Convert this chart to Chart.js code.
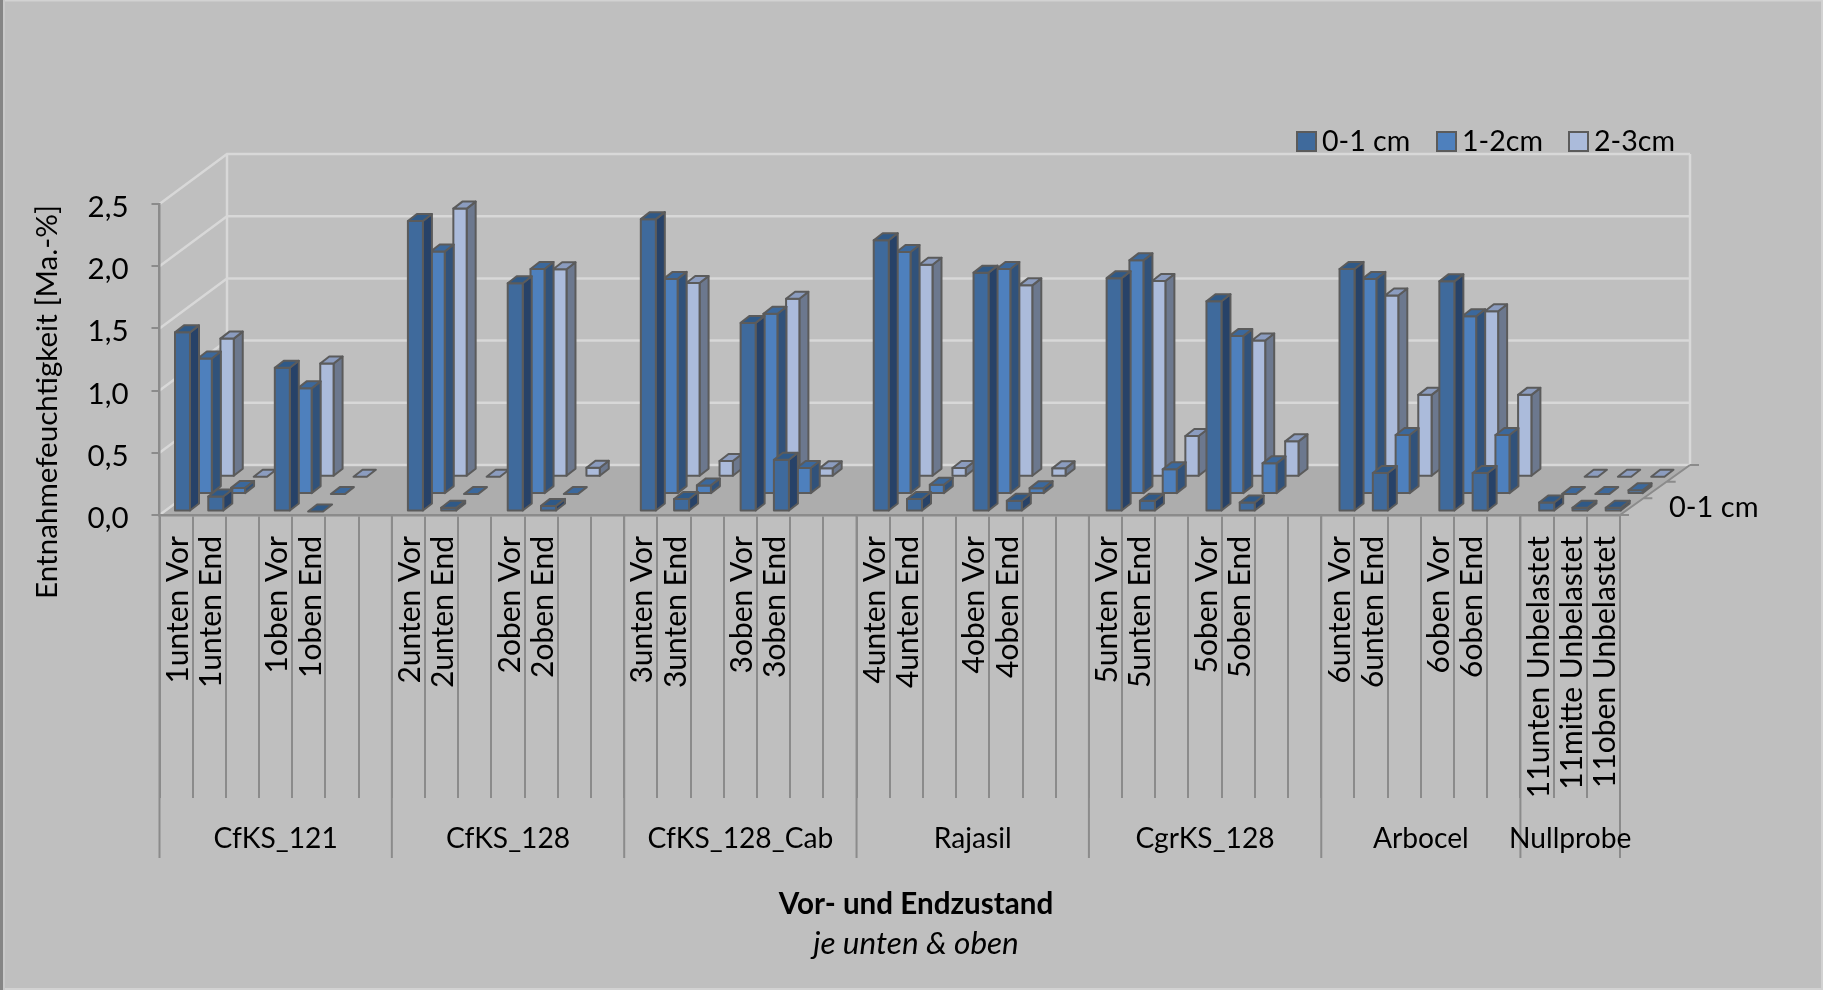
<!DOCTYPE html>
<html>
<head>
<meta charset="utf-8">
<title>Entnahmefeuchtigkeit</title>
<style>html,body{margin:0;padding:0;background:#bfbfbf}canvas{display:block}</style>
<script src="https://cdn.jsdelivr.net/npm/chart.js@4/dist/chart.umd.min.js"></script>
</head>
<body>
<canvas id="c" width="1823" height="990"></canvas>
<script>
// Sample labels per slot; empty strings are the spacer slots between sample pairs.
const categories = [
  '1unten Vor','1unten End','','1oben Vor','1oben End','','',
  '2unten Vor','2unten End','','2oben Vor','2oben End','','',
  '3unten Vor','3unten End','','3oben Vor','3oben End','','',
  '4unten Vor','4unten End','','4oben Vor','4oben End','','',
  '5unten Vor','5unten End','','5oben Vor','5oben End','','',
  '6unten Vor','6unten End','','6oben Vor','6oben End','',
  '11unten Unbelastet','11mitte Unbelastet','11oben Unbelastet'
];
const groupNames = ['CfKS_121','CfKS_128','CfKS_128_Cab','Rajasil','CgrKS_128','Arbocel','Nullprobe'];
const groupSizes = [7,7,7,7,7,6,3];
const seriesNames = ['0-1 cm','1-2cm','2-3cm'];
const depth0to1 = [
  1.44,0.12,null,1.155,0.00,null,null,
  2.335,0.03,null,1.835,0.045,null,null,
  2.35,0.10,null,1.516,0.416,null,null,
  2.18,0.10,null,1.92,0.086,null,null,
  1.876,0.086,null,1.69,0.072,null,null,
  1.95,0.31,null,1.85,0.31,null,
  0.072,0.03,0.03
];
const depth1to2 = [
  1.09,0.05,null,0.85,0.00,null,null,
  1.95,0.00,null,1.81,0.00,null,null,
  1.73,0.07,null,1.45,0.21,null,null,
  1.946,0.075,null,1.81,0.048,null,null,
  1.879,0.20,null,1.27,0.247,null,null,
  1.73,0.475,null,1.43,0.475,null,
  0.00,0.00,0.03
];
const depth2to3 = [
  1.11,0.00,null,0.91,0.00,null,null,
  2.155,0.00,null,1.667,0.072,null,null,
  1.557,0.126,null,1.43,0.067,null,null,
  1.704,0.07,null,1.538,0.067,null,null,
  1.573,0.327,null,1.095,0.284,null,null,
  1.457,0.658,null,1.33,0.658,null,
  0.00,0.00,0.00
];
const yTicks = {min:0, max:2.5, step:0.5};

const FONT = 'Lato, "Open Sans", sans-serif';
const TEXT = '#000000';
const AXIS = '#8b8b8b';
const WALL = '#d8d8d8';
const OUTLINE = '#5b5b5b';
// Oblique projection of the box: the back of the floor shifts up and to the right,
// a little further on the right-hand side.
const BOX_DX_LEFT = 67.5, BOX_DX_RIGHT = 70, BOX_DY = -50;

// Bar drawn as an oblique prism; planeIndex moves it back along the depth axis.
class Prism extends Chart.BarElement {
  static id = 'prism';
  static defaults = Object.assign({}, Chart.BarElement.defaults, {sideColor:'#000', topColor:'#000', planeIndex:0});
  draw(ctx) {
    const o = this.options;
    const i = o.planeIndex;
    const sx = 6.4 + 0.0024 * (this.x - 176) + i * 22.3;
    const sy = -3.5 - i * 17.4;
    const l = this.x - this.width / 2 + sx, r = l + this.width;
    const t = this.y + sy, b = this.base + sy;
    const dx = 9, dy = -7;
    ctx.save();
    ctx.lineWidth = 2;
    ctx.lineJoin = 'round';
    ctx.strokeStyle = OUTLINE;
    const face = (pts, fill) => {
      ctx.beginPath();
      pts.forEach((p, k) => k ? ctx.lineTo(p[0], p[1]) : ctx.moveTo(p[0], p[1]));
      ctx.closePath();
      ctx.fillStyle = fill;
      ctx.fill();
      ctx.stroke();
    };
    if (b - t > 0.5) {
      face([[r,t],[r+dx,t+dy],[r+dx,b+dy],[r,b]], o.sideColor);
      face([[l,t],[r,t],[r,b],[l,b]], o.backgroundColor);
    }
    face([[l,t],[l+dx,t+dy],[r+dx,t+dy],[r,t]], o.topColor);
    ctx.restore();
  }
}
class PrismController extends Chart.BarController {
  static id = 'prismBar';
  static defaults = {dataElementType: 'prism'};
}
Chart.register(Prism, PrismController);

function groupBounds(xs) {
  const out = [];
  let slot = 0;
  const half = (xs.getPixelForValue(1) - xs.getPixelForValue(0)) / 2;
  groupSizes.forEach((n, g) => {
    const a = xs.getPixelForValue(slot) - half;
    const b = xs.getPixelForValue(slot + n - 1) + half;
    out.push({name: groupNames[g], a, b});
    slot += n;
  });
  return out;
}

function textAt(ctx, s, x, y, font, align) {
  ctx.font = font;
  ctx.fillStyle = TEXT;
  ctx.textAlign = align || 'center';
  ctx.textBaseline = 'middle';
  ctx.fillText(s, x, y);
}

// Chart background, back wall, side wall and floor of the box.
const boxPlugin = {
  id: 'box',
  beforeDraw(chart) {
    const {ctx, width, height, scales:{y}} = chart;
    const a = chart.chartArea;
    const backL = a.left + BOX_DX_LEFT, backR = a.right + BOX_DX_RIGHT;
    ctx.save();
    ctx.fillStyle = '#bfbfbf';
    ctx.fillRect(0, 0, width, height);
    ctx.fillStyle = '#d2d2d2';
    ctx.fillRect(0, 0, width, 1.5);
    ctx.fillRect(0, height - 2, width, 2);
    ctx.fillRect(width - 2, 0, 2, height);
    ctx.fillStyle = '#858585';
    ctx.fillRect(0, 0, 3, height);
    ctx.fillStyle = '#c9c9c9';
    ctx.fillRect(3, 0, 2, height);

    ctx.fillStyle = '#adadad';
    ctx.beginPath();
    ctx.moveTo(a.left, a.bottom);
    ctx.lineTo(a.right, a.bottom);
    ctx.lineTo(backR, a.bottom + BOX_DY);
    ctx.lineTo(backL, a.bottom + BOX_DY);
    ctx.closePath();
    ctx.fill();

    ctx.strokeStyle = WALL;
    ctx.lineWidth = 2.5;
    for (let v = yTicks.min; v <= yTicks.max + 1e-9; v += yTicks.step) {
      const py = y.getPixelForValue(v);
      ctx.beginPath();
      ctx.moveTo(a.left, py);
      ctx.lineTo(backL, py + BOX_DY);
      ctx.lineTo(backR, py + BOX_DY);
      ctx.stroke();
    }
    ctx.beginPath();
    ctx.moveTo(backL, a.top + BOX_DY);
    ctx.lineTo(backL, a.bottom + BOX_DY);
    ctx.moveTo(backR, a.top + BOX_DY);
    ctx.lineTo(backR, a.bottom + BOX_DY);
    ctx.stroke();
    ctx.restore();
  },
  // Group separators and names, depth axis, titles and legend.
  afterDraw(chart) {
    const {ctx, scales:{x}} = chart;
    const a = chart.chartArea;
    ctx.save();
    ctx.strokeStyle = AXIS;
    ctx.lineWidth = 2;
    const groups = groupBounds(x);
    groups.forEach((g, k) => {
      ctx.beginPath();
      ctx.moveTo(g.a, a.bottom);
      ctx.lineTo(g.a, 858);
      ctx.stroke();
      if (k === groups.length - 1) {
        ctx.beginPath();
        ctx.moveTo(g.b, a.bottom);
        ctx.lineTo(g.b, 858);
        ctx.stroke();
      }
      textAt(ctx, g.name, (g.a + g.b) / 2, 839, '28.2px ' + FONT);
    });

    // Depth axis with one tick per series plane boundary.
    ctx.beginPath();
    ctx.moveTo(a.right, a.bottom);
    ctx.lineTo(a.right + BOX_DX_RIGHT, a.bottom + BOX_DY);
    for (let k = 0; k <= 3; k++) {
      const px = a.right + BOX_DX_RIGHT * k / 3, py = a.bottom + BOX_DY * k / 3;
      ctx.moveTo(px, py);
      ctx.lineTo(px + 9, py);
    }
    ctx.stroke();
    textAt(ctx, seriesNames[0], 1669, 508, '29px ' + FONT, 'left');

    // Titles.
    textAt(ctx, 'Vor- und Endzustand', 916, 904, 'bold 29.6px ' + FONT);
    textAt(ctx, 'je unten & oben', 916, 944, 'italic 31.5px ' + FONT);
    ctx.save();
    ctx.translate(47, 402);
    ctx.rotate(-Math.PI / 2);
    textAt(ctx, 'Entnahmefeuchtigkeit [Ma.-%]', 0, 0, '29.6px ' + FONT);
    ctx.restore();

    // Legend.
    const legendX = [1297, 1437, 1569];
    chart.data.datasets.forEach((d, k) => {
      ctx.fillStyle = d.backgroundColor;
      ctx.strokeStyle = OUTLINE;
      ctx.lineWidth = 2;
      ctx.fillRect(legendX[k], 132, 19, 19);
      ctx.strokeRect(legendX[k], 132, 19, 19);
      textAt(ctx, d.label, legendX[k] + 25, 142, '28.6px ' + FONT, 'left');
    });
    ctx.restore();
  }
};

const planes = [
  {data: depth0to1, front:'#3f6a9c', side:'#274268', top:'#2f5987', w:15},
  {data: depth1to2, front:'#4e80bd', side:'#31527a', top:'#3b689c', w:14},
  {data: depth2to3, front:'#abbbdb', side:'#6c788e', top:'#8b9cbf', w:13.3}
];

new Chart(document.getElementById('c'), {
  type: 'prismBar',
  data: {
    labels: categories,
    datasets: planes.map((p, i) => ({
      label: seriesNames[i],
      data: p.data,
      backgroundColor: p.front,
      sideColor: p.side,
      topColor: p.top,
      planeIndex: i,
      barThickness: p.w,
      grouped: false,
      clip: false
    }))
  },
  plugins: [boxPlugin],
  options: {
    responsive: false,
    animation: false,
    layout: {padding: {top: 204, right: 203, left: 0, bottom: 0}},
    plugins: {legend: {display: false}, title: {display: false}, tooltip: {enabled: false}},
    scales: {
      x: {
        type: 'category',
        offset: true,
        afterFit(s) { s.height = 475; },
        grid: {offset: true, drawOnChartArea: false, color: AXIS, lineWidth: 2, tickLength: 283},
        border: {color: AXIS, width: 2.5},
        ticks: {
          autoSkip: false, minRotation: 90, maxRotation: 90, labelOffset: 2,
          padding: -262, color: TEXT, font: {family: FONT, size: 30}
        }
      },
      y: {
        type: 'linear',
        min: yTicks.min,
        max: yTicks.max,
        afterFit(s) { s.width = 159.5; },
        grid: {drawOnChartArea: false, color: AXIS, lineWidth: 2, tickLength: 8},
        border: {color: AXIS, width: 2.5},
        ticks: {
          stepSize: yTicks.step, padding: 23, labelOffset: 3.5, color: TEXT,
          font: {family: FONT, size: 29.5},
          callback: v => v.toFixed(1).replace('.', ',')
        }
      }
    }
  }
});
</script>
</body>
</html>
